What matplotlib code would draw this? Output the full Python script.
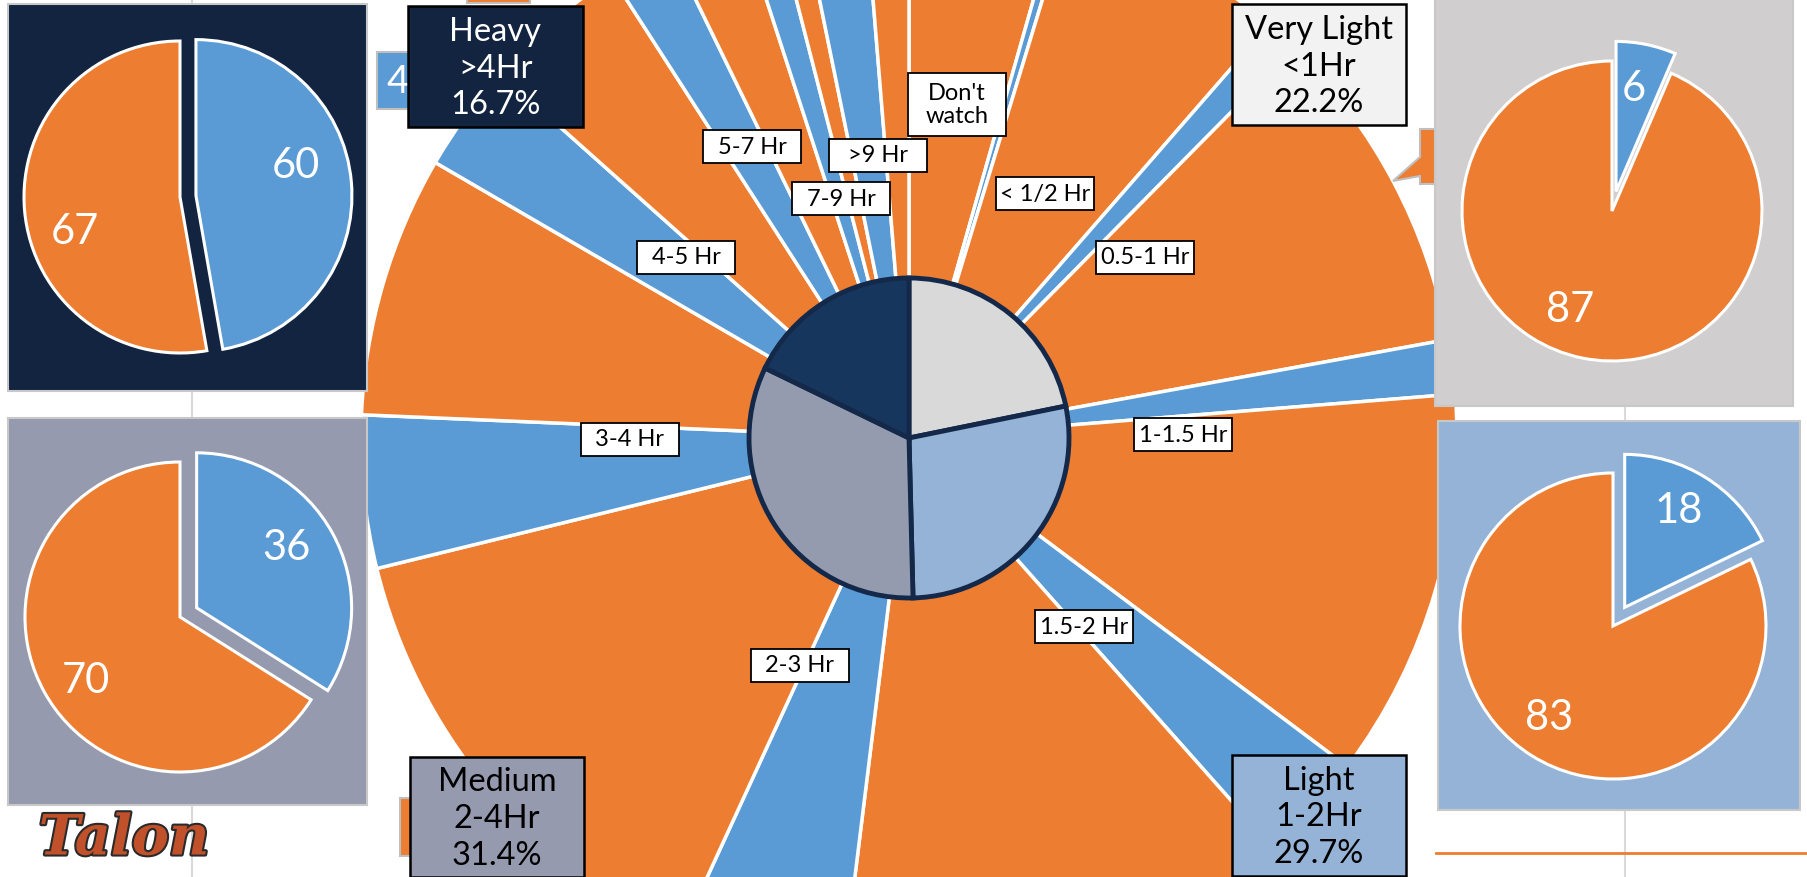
import numpy as np
import matplotlib
matplotlib.use('Agg')
import matplotlib.pyplot as plt
import matplotlib.patches as mpatches
import matplotlib.patheffects as pe

plt.rcParams['font.family'] = ['Lato', 'DejaVu Sans']

# ---- data ----
# outer ring: share of all respondents (%) per viewing-time bucket, split blue / orange
categories = ["Don't\nwatch", "< 1/2 Hr", "0.5-1 Hr", "1-1.5 Hr", "1.5-2 Hr",
              "2-3 Hr", "3-4 Hr", "4-5 Hr", "5-7 Hr", "7-9 Hr", ">9 Hr"]
blue_share = [0.0, 0.3, 1.0, 1.6, 3.2, 4.9, 4.5, 3.2, 1.9, 1.0, 1.9]
orange_share = [4.4, 6.7, 9.7, 11.5, 13.5, 14.3, 7.7, 4.3, 2.2, 0.8, 1.3]

# inner pie: viewer groups (slice sizes as drawn, and the printed labels)
groups = ["Very Light", "Light", "Medium", "Heavy"]
group_hours = ["<1Hr", "1-2Hr", "2-4Hr", ">4Hr"]
group_share = [21.8, 27.8, 32.6, 17.8]
group_pct = [22.2, 29.7, 31.4, 16.7]

# small pies per group
group_blue = [6, 18, 36, 60]
group_orange = [87, 83, 70, 67]

# ---- styling / layout (image pixel coordinates) ----
W, H = 1808, 878
ORANGE = '#ED7D31'
BLUE = '#5B9BD5'
group_colors = ['#D9D9D9', '#95B3D7', '#949BAF', '#17365D']
panel_colors = ['#D0CECE', '#95B3D7', '#959AAE', '#12243F']
box_colors = ['#F2F2F2', '#95B3D7', '#959AAE', '#12243F']
box_text = ['black', 'black', 'black', 'white']

CX, CY = 909, 439
R_OUT, R_IN = 548, 160

# label box centres for outer ring
cat_xy = [(957, 105), (1045, 194), (1145, 258), (1183, 435), (1084, 627),
          (800, 666), (630, 440), (686, 258), (752, 147), (841, 199), (878, 156)]

# small pie panels: (x0, y0, x1, y1), pie centre, radius, explode px
panels = [(1435, 0, 1793, 407), (1438, 422, 1800, 811),
          (8, 419, 367, 806), (8, 5, 367, 392)]
pie_c = [(1612, 212), (1613, 627), (180, 618), (180, 198)]
pie_r = [150, 153, 155, 156]
pie_ex = [20, 22, 19, 16]
# value label direction (deg clockwise from 12) and distance (fraction of r)
lab_ang = [(10, 203), (29, 215), (56, 236), (73, 252)]
lab_dist = [(0.70, 0.71), (0.73, 0.73), (0.70, 0.73), (0.67, 0.71)]

# group label boxes
gbox = [(1232, 5, 1406, 126), (1232, 756, 1406, 877),
        (410, 758, 584, 878), (408, 7, 583, 128)]


def Y(y):
    return H - y


fig = plt.figure(figsize=(W / 100, H / 100), dpi=100)
ax = fig.add_axes([0, 0, 1, 1])

# faint grid lines + orange rule
for gx in (192, 1625):
    ax.plot([gx, gx], [0, H], color='#D9D9D9', lw=1.5, zorder=0.5)
ax.plot([1436, W], [Y(854), Y(854)], color=ORANGE, lw=2, zorder=0.5)

# outer ring
vals, cols = [], []
for b, o in zip(blue_share, orange_share):
    vals += [b, o]
    cols += [BLUE, ORANGE]
ax.pie(vals, colors=cols, startangle=90, counterclock=False,
       center=(CX, Y(CY)), radius=R_OUT,
       wedgeprops=dict(edgecolor='white', linewidth=2.5, zorder=2))

# inner pie
ax.pie(group_share, colors=group_colors, startangle=90, counterclock=False,
       center=(CX, Y(CY)), radius=R_IN,
       wedgeprops=dict(edgecolor='#14294A', linewidth=3.5, zorder=3))

# outer ring labels
for lab, (x, y) in zip(categories, cat_xy):
    h = 63 if '\n' in lab else 33
    ax.add_patch(mpatches.Rectangle((x - 49, Y(y) - h / 2), 98, h, fc='white',
                                    ec='black', lw=1.3, zorder=4))
    ax.text(x, Y(y), lab, ha='center', va='center', fontsize=17,
            linespacing=1.15, zorder=5)

# partly hidden callouts behind the panels
ax.add_patch(mpatches.Rectangle((377, Y(110)), 70, 57, fc=BLUE, ec='#BFBFBF', lw=1.5, zorder=5))
ax.text(386, Y(82), '4', color='white', fontsize=28, ha='left', va='center', zorder=5)
ax.add_patch(mpatches.Rectangle((467, Y(4)), 63, 6, fc=ORANGE, ec='#BFBFBF', lw=1.5, zorder=5))
ax.add_patch(mpatches.Polygon([(1420, Y(130)), (1460, Y(130)), (1460, Y(185)), (1420, Y(185)),
                               (1420, Y(177)), (1393, Y(182)), (1420, Y(158))],
                              closed=True, fc=ORANGE, ec='#BFBFBF', lw=1.5, zorder=5))
ax.add_patch(mpatches.Rectangle((400, Y(857)), 40, 58, fc=ORANGE, ec='#BFBFBF', lw=1.5, zorder=5))

# small pies
for i in range(4):
    x0, y0, x1, y1 = panels[i]
    ax.add_patch(mpatches.Rectangle((x0, Y(y1)), x1 - x0, y1 - y0, fc=panel_colors[i],
                                    ec='#C8C8C8', lw=1.5, zorder=6))
    cx, cy = pie_c[i]
    wedges, _ = ax.pie([group_blue[i], group_orange[i]], colors=[BLUE, ORANGE],
                       startangle=90, counterclock=False, explode=[pie_ex[i], 0],
                       center=(cx, Y(cy)), radius=pie_r[i],
                       wedgeprops=dict(edgecolor='white', linewidth=2.2, zorder=7))
    for w, v, a, d in zip(wedges, [group_blue[i], group_orange[i]], lab_ang[i], lab_dist[i]):
        wx, wy = w.center
        t = np.radians(a)
        ax.text(wx + d * pie_r[i] * np.sin(t), wy + d * pie_r[i] * np.cos(t), str(v),
                color='white', fontsize=30, ha='center', va='center', zorder=8)

# group boxes
for i in range(4):
    x0, y0, x1, y1 = gbox[i]
    ax.add_patch(mpatches.Rectangle((x0, Y(y1)), x1 - x0, y1 - y0, fc=box_colors[i],
                                    ec='black', lw=1.8, zorder=9))
    ax.text((x0 + x1) / 2, Y((y0 + y1) / 2 + 1),
            f"{groups[i]}\n{group_hours[i]}\n{group_pct[i]}%",
            ha='center', va='center', fontsize=23.5, color=box_text[i],
            linespacing=1.28, zorder=10)

# logo
ax.text(124, Y(840), 'Talon', fontsize=40, family='DejaVu Serif', style='italic',
        weight='bold', color='#C0512A', ha='center', va='center', zorder=10,
        path_effects=[pe.withStroke(linewidth=3, foreground='#2A2A2A')])

ax.set_xlim(0, W)
ax.set_ylim(0, H)
ax.set_aspect('auto')
ax.axis('off')

fig.savefig('out.png', dpi=100)
plt.close(fig)
